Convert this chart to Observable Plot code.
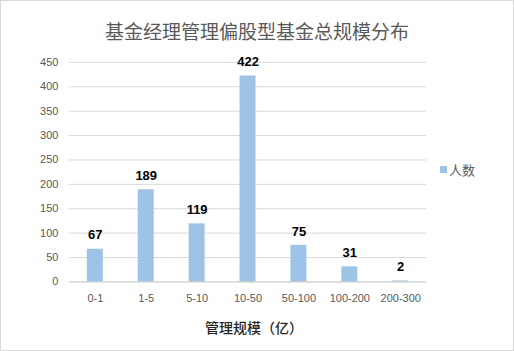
<!DOCTYPE html>
<html><head><meta charset="utf-8">
<script src="https://cdn.jsdelivr.net/npm/d3@7"></script>
<script src="https://cdn.jsdelivr.net/npm/@observablehq/plot@0.6"></script>
<style>
body{margin:0;background:#fff;}
#wrap{position:relative;width:514px;height:351px;box-sizing:border-box;border:1px solid #d9d9d9;background:#fff;overflow:hidden;}
#title{position:absolute;left:0;width:100%;top:16px;text-align:center;font:19px "Noto Sans CJK SC",sans-serif;color:#595959;}
#chart{position:absolute;left:-1px;top:-1px;}
#legend{position:absolute;left:439px;top:159px;font:13px "Noto Sans CJK SC",sans-serif;color:#595959;display:flex;align-items:center;}
#legend span.sw{display:inline-block;width:7px;height:7px;background:#9DC3E6;margin-right:2px;}
#xtitle{position:absolute;left:153px;width:200px;top:316px;text-align:center;font:500 14px "Noto Sans CJK SC",sans-serif;color:#262626;}
</style></head>
<body>
<div id="wrap">
<div id="chart"></div>
<div id="title">基金经理管理偏股型基金总规模分布</div>
<div id="legend"><span class="sw"></span><span>人数</span></div>
<div id="xtitle"></div>
</div>
<script>
const categories = ["0-1","1-5","5-10","10-50","50-100","100-200","200-300"];
const counts = [67,189,119,422,75,31,2];
const yTicks = [0,50,100,150,200,250,300,350,400,450];
const xTitle = "管理规模（亿）";
const data = categories.map((c,i)=>({cat:c, n:counts[i]}));
const numFont = "Liberation Sans, Arial, sans-serif";
const chart = Plot.plot({
  width:514, height:351,
  marginTop:62, marginBottom:69, marginLeft:69, marginRight:87,
  style:{fontFamily:numFont, fontSize:"11px", color:"#595959", background:"transparent"},
  x:{domain:categories, paddingInner:0.69, paddingOuter:0.345, label:null},
  y:{domain:[0,450], ticks:yTicks, label:null},
  marks:[
    Plot.gridY(yTicks.filter(d=>d>0), {stroke:"#d9d9d9", strokeOpacity:1}),
    Plot.barY(data,{x:"cat", y:"n", fill:"#9DC3E6"}),
    Plot.ruleY([0],{stroke:"#bfbfbf"}),
    Plot.axisY({ticks:yTicks, tickSize:0, tickPadding:11, fontSize:11, fill:"#595959", label:null}),
    Plot.axisX({tickSize:0, tickPadding:12, fontSize:11, fill:"#595959", label:null}),
    Plot.text(data,{x:"cat", y:"n", text:d=>String(d.n), dy:-14, fontSize:13, fontWeight:"bold", fill:"#000"})
  ]
});
document.getElementById("chart").appendChild(chart);
document.getElementById("xtitle").textContent = xTitle;
</script>
</body></html>
